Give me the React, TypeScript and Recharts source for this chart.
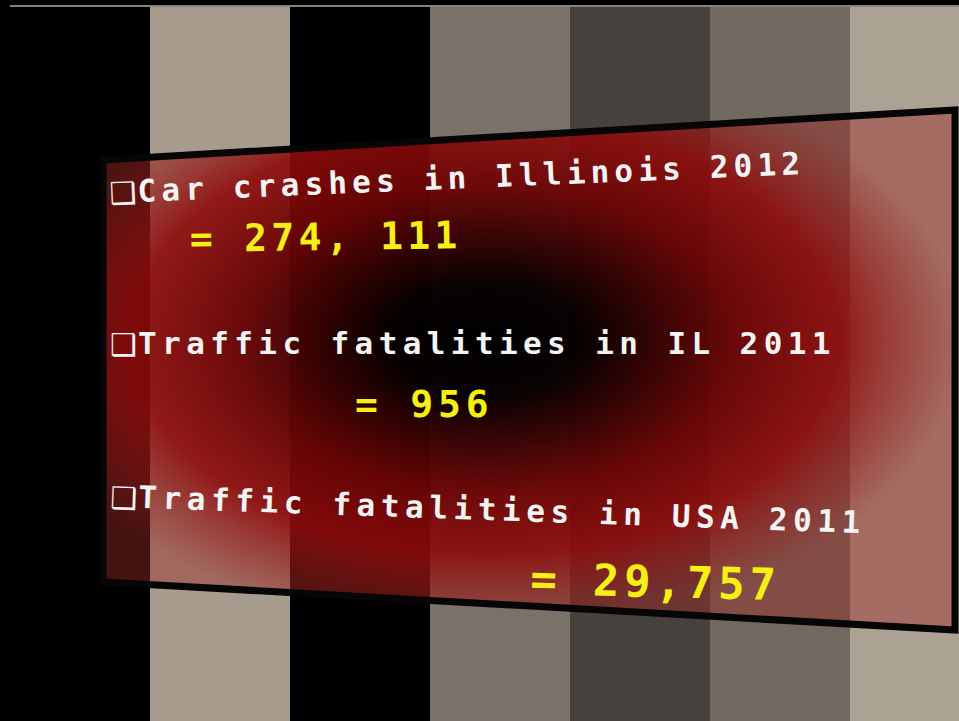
import React from "react";
import { BarChart, Bar, XAxis, YAxis, Cell, ReferenceLine } from "recharts";

// background stripes (wall panels behind the slide)
const stripeNames = ["s1", "s2", "s3", "s4", "s5", "s6", "s7"];
const stripeHeights = [1, 1, 1, 1, 1, 1, 1];
const stripeColors = ["#000000", "#a69b8d", "#000000", "#7a7269", "#46413c", "#716960", "#aca293"];

// slide texts
const bulletGlyph = "❑";
const factLabels = [
  "Car crashes in Illinois 2012",
  "Traffic fatalities in IL 2011",
  "Traffic fatalities in USA 2011",
];
const factValues = ["= 274, 111", "= 956", "= 29,757"];

const stripeData = stripeNames.map((name, i) => ({
  name,
  value: stripeHeights[i],
  color: stripeColors[i],
}));

const labelLayout = [
  { x: 113, y: 203, rot: -2.4, size: 31, spacing: 5.2 },
  { x: 113, y: 354, rot: 0, size: 31, spacing: 5.4 },
  { x: 113, y: 507, rot: 2.0, size: 31, spacing: 5.6 },
];
const valueLayout = [
  { x: 190, y: 252, rot: -0.8, size: 38, spacing: 4.3 },
  { x: 355, y: 417, rot: 0, size: 38, spacing: 4.8 },
  { x: 530, y: 594, rot: 1.4, size: 44, spacing: 4.8 },
];

export default function App() {
  return (
    <div
      style={{
        position: "absolute",
        top: 0,
        left: 0,
        width: 959,
        height: 721,
        overflow: "hidden",
        background: "#000",
      }}
    >
      <BarChart
        width={990}
        height={721}
        data={stripeData}
        margin={{ top: 6, right: 0, left: 10, bottom: 0 }}
        barCategoryGap={0}
      >
        <XAxis dataKey="name" hide />
        <YAxis hide domain={[0, 1]} />
        <Bar dataKey="value" isAnimationActive={false}>
          {stripeData.map((d) => (
            <Cell key={d.name} fill={d.color} />
          ))}
        </Bar>
        <ReferenceLine y={1} stroke="#8a8279" strokeWidth={2} />
      </BarChart>

      <svg
        width={959}
        height={721}
        style={{ position: "absolute", top: 0, left: 0 }}
      >
        <defs>
          <radialGradient id="panelGlow" cx="0.45" cy="0.44" r="0.56">
            <stop offset="0%" stopColor="#000000" stopOpacity={1} />
            <stop offset="20%" stopColor="#070000" stopOpacity={0.98} />
            <stop offset="52%" stopColor="#6a0505" stopOpacity={0.96} />
            <stop offset="74%" stopColor="#8e0b0b" stopOpacity={0.9} />
            <stop offset="100%" stopColor="#9a2a26" stopOpacity={0.45} />
          </radialGradient>
        </defs>
        <polygon
          points="103,160 955,110 955,630 103,582"
          fill="url(#panelGlow)"
          stroke="#060606"
          strokeWidth={7}
          strokeLinejoin="miter"
        />
        {factLabels.map((t, i) => {
          const l = labelLayout[i];
          return (
            <g key={t} transform={`rotate(${l.rot} ${l.x} ${l.y})`}>
              <text
                x={l.x - 3}
                y={l.y + 1}
                fill="#f4f4f4"
                fontFamily="'DejaVu Sans', sans-serif"
                fontSize={30}
              >
                {bulletGlyph}
              </text>
              <text
                x={l.x + 25}
                y={l.y}
                fill="#f4f4f4"
                fontFamily="'DejaVu Sans Mono', monospace"
                fontWeight="bold"
                fontSize={l.size}
                letterSpacing={l.spacing}
              >
                {t}
              </text>
            </g>
          );
        })}
        {factValues.map((t, i) => {
          const l = valueLayout[i];
          return (
            <text
              key={t}
              x={l.x}
              y={l.y}
              transform={`rotate(${l.rot} ${l.x} ${l.y})`}
              fill="#f6ef14"
              fontFamily="'DejaVu Sans Mono', monospace"
              fontWeight="bold"
              fontSize={l.size}
              letterSpacing={l.spacing}
            >
              {t}
            </text>
          );
        })}
      </svg>
    </div>
  );
}
